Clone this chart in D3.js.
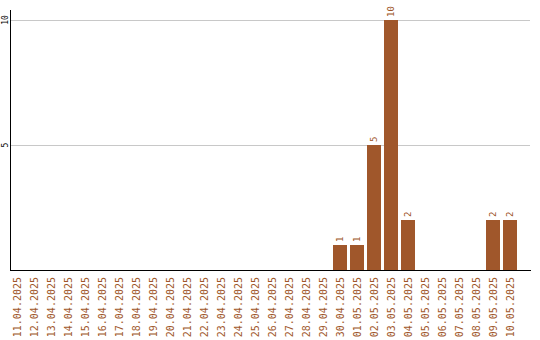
<!DOCTYPE html>
<html>
<head>
<meta charset="utf-8">
<script src="https://cdn.jsdelivr.net/npm/d3@7"></script>
<style>
  body { margin: 0; background: #fff; }
  svg text { font-family: "DejaVu Sans Mono", monospace; }
</style>
</head>
<body>
<div id="chart"></div>
<script>
// dates shown on the x axis
var dates = ["11.04.2025","12.04.2025","13.04.2025","14.04.2025","15.04.2025",
    "16.04.2025","17.04.2025","18.04.2025","19.04.2025","20.04.2025",
    "21.04.2025","22.04.2025","23.04.2025","24.04.2025","25.04.2025",
    "26.04.2025","27.04.2025","28.04.2025","29.04.2025","30.04.2025",
    "01.05.2025","02.05.2025","03.05.2025","04.05.2025","05.05.2025",
    "06.05.2025","07.05.2025","08.05.2025","09.05.2025","10.05.2025"];

// count per day
var counts = [0,0,0,0,0, 0,0,0,0,0, 0,0,0,0,0, 0,0,0,0,1, 1,5,10,2,0, 0,0,0,2,2];

var yTicks = [5, 10];

var width = 540, height = 340;
var barColor = "#a0572b";

var svg = d3.select("#chart").append("svg")
    .attr("width", width)
    .attr("height", height);

var x = d3.scaleBand()
    .domain(dates)
    .range([8.5, 518.5])
    .paddingInner(3 / 17)
    .paddingOuter(1.5 / 17);

var y = d3.scaleLinear()
    .domain([0, 10])
    .range([270, 20]);

// grid lines
svg.selectAll("line.grid")
    .data(yTicks)
    .enter()
    .append("line")
    .attr("class", "grid")
    .attr("x1", 10.5)
    .attr("x2", 530)
    .attr("y1", function(d) { return Math.round(y(d)) + 0.5; })
    .attr("y2", function(d) { return Math.round(y(d)) + 0.5; })
    .attr("stroke", "#c8c8c8")
    .attr("stroke-width", 1);

// y tick labels, rotated
svg.selectAll("text.ytick")
    .data(yTicks)
    .enter()
    .append("text")
    .attr("class", "ytick")
    .attr("transform", function(d) { return "translate(5," + y(d) + ") rotate(-90)"; })
    .attr("text-anchor", "middle")
    .attr("dy", "0.35em")
    .attr("font-size", "8px")
    .attr("fill", "#000")
    .text(function(d) { return d; });

// bars
var data = dates.map(function(d, i) { return {date: d, value: counts[i]}; });

svg.selectAll("rect")
    .data(data.filter(function(d) { return d.value > 0; }))
    .enter()
    .append("rect")
    .attr("x", function(d) { return x(d.date); })
    .attr("y", function(d) { return y(d.value); })
    .attr("width", x.bandwidth())
    .attr("height", function(d) { return y(0) - y(d.value); })
    .attr("fill", barColor);

// value labels above bars
svg.selectAll("text.val")
    .data(data.filter(function(d) { return d.value > 0; }))
    .enter()
    .append("text")
    .attr("class", "val")
    .attr("transform", function(d) {
        return "translate(" + (x(d.date) + x.bandwidth() / 2) + "," + (y(d.value) - 3) + ") rotate(-90)";
    })
    .attr("text-anchor", "start")
    .attr("dy", "0.35em")
    .attr("font-size", "9px")
    .attr("fill", barColor)
    .text(function(d) { return d.value; });

// axes lines
svg.append("line")
    .attr("x1", 10.5).attr("x2", 10.5)
    .attr("y1", 10).attr("y2", 271)
    .attr("stroke", "#000").attr("stroke-width", 1);

svg.append("line")
    .attr("x1", 10).attr("x2", 531)
    .attr("y1", 270.5).attr("y2", 270.5)
    .attr("stroke", "#000").attr("stroke-width", 1);

// x labels, rotated
svg.selectAll("text.xlab")
    .data(dates)
    .enter()
    .append("text")
    .attr("class", "xlab")
    .attr("transform", function(d) {
        return "translate(" + (x(d) + x.bandwidth() / 2) + ",277) rotate(-90)";
    })
    .attr("text-anchor", "end")
    .attr("dy", "0.35em")
    .attr("font-size", "10px")
    .attr("fill", barColor)
    .text(function(d) { return d; });
</script>
</body>
</html>
